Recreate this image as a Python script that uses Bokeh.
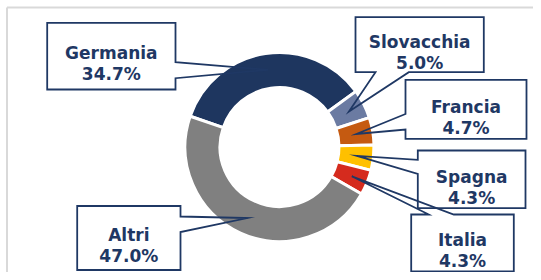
import math
from bokeh.plotting import figure
from bokeh.models import Range1d, ColumnDataSource
from bokeh.core.properties import value
from bokeh.embed import file_html
from bokeh.resources import INLINE

# ---- data ----
labels = ["Germania", "Slovacchia", "Francia", "Spagna", "Italia", "Altri"]
shares = [34.7, 5.0, 4.7, 4.3, 4.3, 47.0]
value_labels = ["34.7%", "5.0%", "4.7%", "4.3%", "4.3%", "47.0%"]
colors = ["#1E365F", "#6B7BA2", "#C55A11", "#FFC000", "#D52B1E", "#808080"]

# ---- layout (pixel coordinates, y downward) ----
W, H = 533, 272
CX, CY = 279.0, 146.5
R_OUT, R_IN, R_TIP = 94.5, 59.5, 78.0
START_DEG = 161.0
NAVY = "#1F3864"

# callout boxes: left, top, right, bottom, side of pointer, attach positions
boxes = {
    "Germania":   (46.7, 22.3, 175.0, 89.0, "right", 61.7, 77.7),
    "Slovacchia": (355.0, 16.7, 483.3, 71.7, "bottom", 375.0, 408.3),
    "Francia":    (405.0, 79.3, 526.0, 138.3, "left", 113.5, 129.0),
    "Spagna":     (417.3, 150.0, 525.0, 207.7, "left", 159.3, 173.3),
    "Italia":     (410.7, 214.0, 513.3, 271.0, "top", 428.3, 453.3),
    "Altri":      (76.7, 205.5, 180.0, 269.5, "right", 216.0, 231.5),
}


def py(y):
    return H - y


p = figure(width=W, height=H, x_range=Range1d(0, W), y_range=Range1d(0, H),
           output_backend="svg", toolbar_location=None, min_border=0)
p.axis.visible = False
p.grid.visible = False
p.outline_line_color = None
p.background_fill_color = "white"
p.border_fill_color = "white"

# light frame
p.line([6.5, W], [py(7), py(7)], line_color="#D9D9D9", line_width=2)
p.line([6.5, 6.5], [py(7), 0], line_color="#D9D9D9", line_width=2)

# wedges
starts, ends, tips = [], [], []
a = START_DEG
for s in shares:
    span = s / 100.0 * 360.0
    starts.append(math.radians(a))
    ends.append(math.radians(a - span))
    mid = math.radians(a - span / 2)
    tips.append((CX + R_TIP * math.cos(mid), CY - R_TIP * math.sin(mid)))
    a -= span

src = ColumnDataSource(dict(x=[CX] * len(shares), y=[py(CY)] * len(shares),
                            start=starts, end=ends, color=colors))
p.annular_wedge(x="x", y="y", inner_radius=R_IN, outer_radius=R_OUT,
                start_angle="start", end_angle="end", direction="clock",
                fill_color="color", line_color="white", line_width=3, source=src)

# callouts
fill_l, fill_r, fill_t, fill_b = [], [], [], []
outline_xs, outline_ys = [], []
tx, ty1, ty2 = [], [], []
for lab, tip in zip(labels, tips):
    l, t, r, b, side, a1, a2 = boxes[lab]
    fill_l.append(l); fill_r.append(r); fill_t.append(py(t)); fill_b.append(py(b))
    tpx, tpy = tip
    if side == "right":
        pts = [(l, t), (r, t), (r, a1), (tpx, tpy), (r, a2), (r, b), (l, b)]
    elif side == "left":
        pts = [(l, t), (r, t), (r, b), (l, b), (l, a2), (tpx, tpy), (l, a1)]
    elif side == "bottom":
        pts = [(l, t), (r, t), (r, b), (a2, b), (tpx, tpy), (a1, b), (l, b)]
    else:
        pts = [(l, t), (a1, t), (tpx, tpy), (a2, t), (r, t), (r, b), (l, b)]
    outline_xs.append([q[0] for q in pts])
    outline_ys.append([py(q[1]) for q in pts])
    cxm = (l + r) / 2
    cym = (t + b) / 2 + 1.5
    tx.append(cxm)
    ty1.append(py(cym - 10.5 + 6.2))
    ty2.append(py(cym + 10.5 + 6.2))

p.quad(left=fill_l, right=fill_r, top=fill_t, bottom=fill_b,
       fill_color="white", line_color=None)
p.patches(xs=outline_xs, ys=outline_ys, fill_color=None, line_color=NAVY,
          line_width=1.8, line_join="miter")

p.text(x=tx, y=ty1, text=labels, text_font=value("DejaVu Sans"),
       text_font_style="bold", text_font_size="17px", text_color=NAVY,
       text_align="center", text_baseline="alphabetic")
p.text(x=tx, y=ty2, text=value_labels, text_font=value("DejaVu Sans"),
       text_font_style="bold", text_font_size="17px", text_color=NAVY,
       text_align="center", text_baseline="alphabetic")

open("out.html", "w").write(file_html(p, INLINE))
